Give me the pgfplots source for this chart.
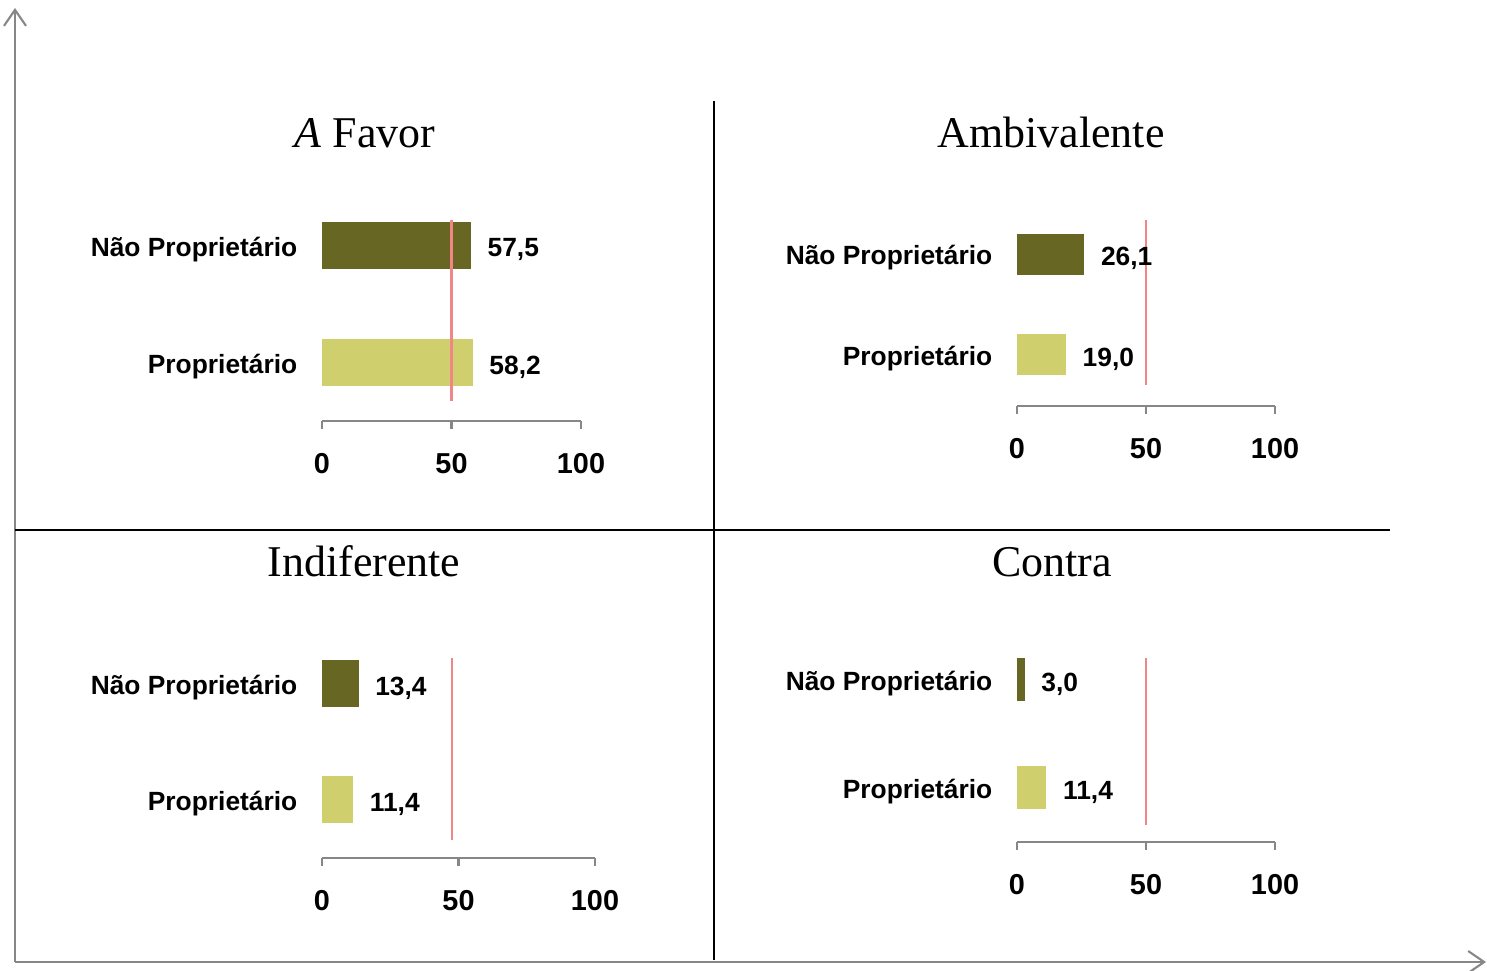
\documentclass[border=0pt]{standalone}
\usepackage{fontspec}
\setmainfont{Liberation Sans}
\newfontfamily\titlefont{Liberation Serif}
\usepackage{pgfplots}
\pgfplotsset{compat=1.18}
\usetikzlibrary{arrows.meta}
\definecolor{naoprop}{HTML}{686623}
\definecolor{prop}{HTML}{CFCF6D}
\definecolor{refline}{HTML}{F28585}
\definecolor{axgray}{HTML}{878787}

\pgfplotsset{
  panel/.style={
    xbar, bar shift=0pt,
    scale only axis,
    anchor=south west,
    clip=false,
    xmin=0, xmax=100,
    axis x line*=bottom, axis y line*=left,
    y axis line style={draw=none},
    x axis line style={draw=axgray, line width=0.6pt},
    xtick={0,50,100},
    tick align=outside,
    major tick length=0.08cm,
    xtick style={draw=axgray, line width=0.6pt},
    ytick={0,1}, yticklabels={Proprietário, Não Proprietário},
    ytick style={draw=none},
    yticklabel style={font=\bfseries\fontsize{7.5}{9}\selectfont, inner sep=0pt, xshift=-0.16cm, yshift=-0.04cm},
    xticklabel style={font=\bfseries\fontsize{8.2}{10}\selectfont, yshift=-0.12cm},
    /pgf/number format/assume math mode=true,
    nodes near coords, point meta=x,
    every node near coord/.append style={font=\bfseries\fontsize{7.5}{9}\selectfont,
      anchor=west, inner sep=0pt, xshift=0.16cm, yshift=-0.04cm, text=black,
      /pgf/number format/.cd, use comma, fixed, fixed zerofill, precision=1},
  },
}

\begin{document}
\begin{tikzpicture}
\useasboundingbox (0,0) rectangle (14.87,9.70);

% frame lines
\draw[axgray, line width=0.6pt, -{Straight Barb[length=0.16cm,width=0.22cm]}] (0.15,0.08) -- (0.15,9.62);
\draw[axgray, line width=0.6pt, -{Straight Barb[length=0.16cm,width=0.22cm]}] (0.15,0.08) -- (14.86,0.08);
\draw[black, line width=0.6pt] (7.14,8.69) -- (7.14,0.10);
\draw[black, line width=0.6pt] (0.15,4.40) -- (13.90,4.40);

% titles
\node[anchor=base, font=\titlefont\fontsize{12.5}{15}\selectfont] at (3.65,8.22) {\textit{A} Favor};
\node[anchor=base, font=\titlefont\fontsize{12.5}{15}\selectfont] at (10.51,8.22) {Ambivalente};
\node[anchor=base, font=\titlefont\fontsize{12.5}{15}\selectfont] at (3.64,3.93) {Indiferente};
\node[anchor=base, font=\titlefont\fontsize{12.5}{15}\selectfont] at (10.52,3.93) {Contra};

% A Favor
\begin{axis}[panel, at={(3.22cm,5.49cm)}, width=2.59cm, height=2.21cm,
  ymin=-0.496, ymax=1.393, bar width=0.402]
\addplot[fill=naoprop, draw=none] coordinates {(57.5,1)};
\addplot[fill=prop, draw=none] coordinates {(58.2,0)};
\draw[refline, line width=0.8pt] (axis cs:50,1.222) -- (axis cs:50,-0.325);
\end{axis}

% Ambivalente
\begin{axis}[panel, at={(10.17cm,5.64cm)}, width=2.58cm, height=2.06cm,
  ymin=-0.505, ymax=1.535, bar width=0.406]
\addplot[fill=naoprop, draw=none] coordinates {(26.1,1)};
\addplot[fill=prop, draw=none] coordinates {(19.0,0)};
\draw[refline, line width=0.8pt] (axis cs:50,1.337) -- (axis cs:50,-0.297);
\end{axis}

% Indiferente
\begin{axis}[panel, at={(3.22cm,1.12cm)}, width=2.73cm, height=2.18cm,
  ymin=-0.5, ymax=1.379, bar width=0.405]
\addplot[fill=naoprop, draw=none] coordinates {(13.4,1)};
\addplot[fill=prop, draw=none] coordinates {(11.4,0)};
\draw[refline, line width=0.8pt] (axis cs:47.6,1.224) -- (axis cs:47.6,-0.345);
\end{axis}

% Contra
\begin{axis}[panel, at={(10.17cm,1.28cm)}, width=2.58cm, height=2.02cm,
  ymin=-0.5, ymax=1.370, bar width=0.398]
\addplot[fill=naoprop, draw=none] coordinates {(3.0,1)};
\addplot[fill=prop, draw=none] coordinates {(11.4,0)};
\draw[refline, line width=0.8pt] (axis cs:50,1.204) -- (axis cs:50,-0.343);
\end{axis}
\end{tikzpicture}
\end{document}
